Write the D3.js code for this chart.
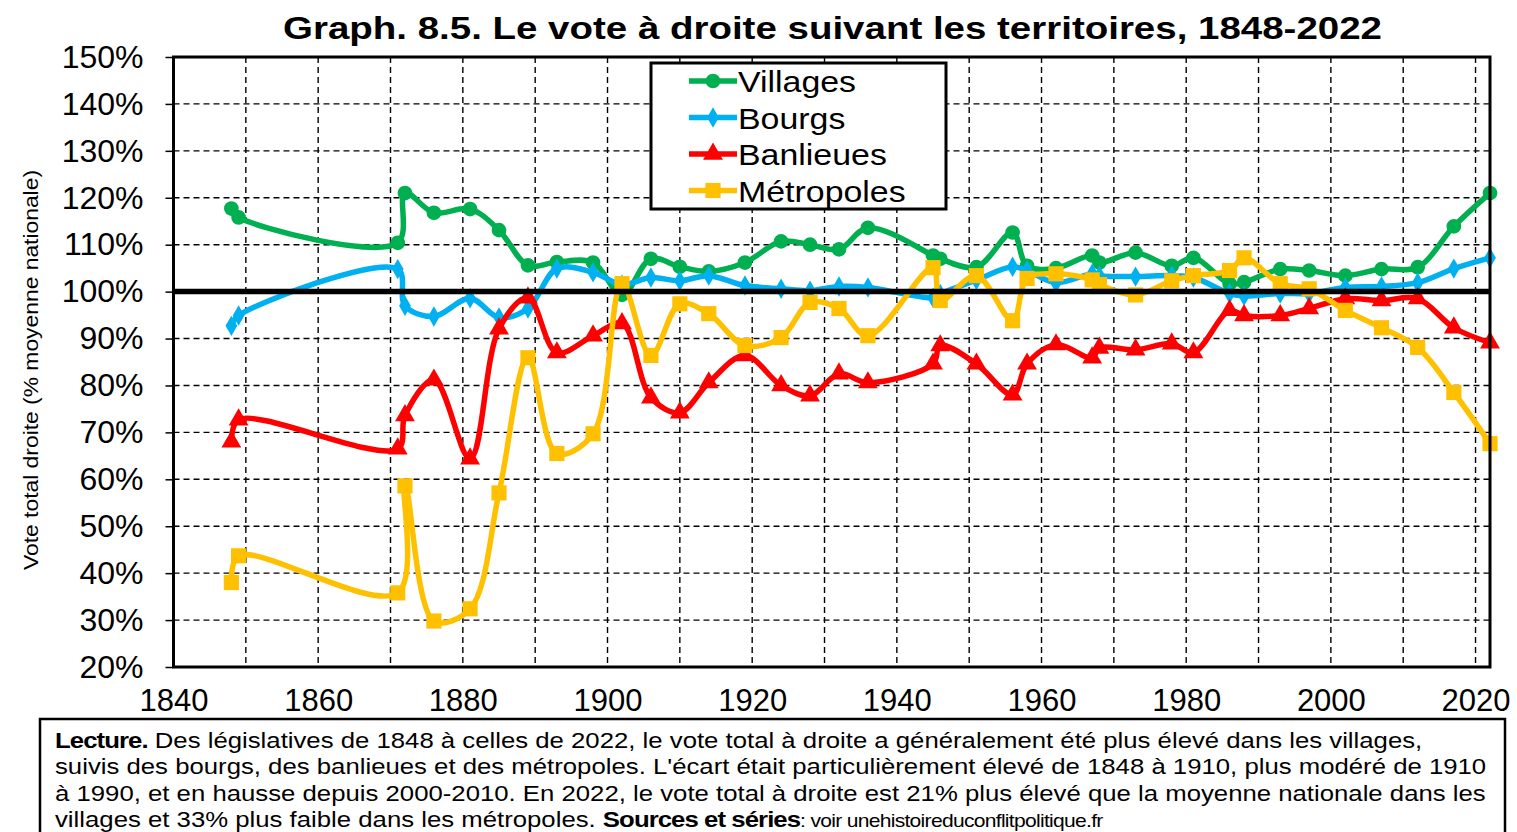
<!DOCTYPE html>
<html>
<head>
<meta charset="utf-8">
<script src="https://cdn.jsdelivr.net/npm/d3@7"></script>
<style>
  body { margin: 0; background: #fff; }
  svg { display: block; font-family: "Liberation Sans", Arial, sans-serif; }
</style>
</head>
<body>
<div id="chart"></div>
<script>
// election years
const years = [1848, 1849, 1871, 1872, 1876, 1881, 1885, 1889, 1893, 1898, 1902, 1906, 1910, 1914, 1919, 1924, 1928, 1932, 1936, 1945, 1946, 1951, 1956, 1958, 1962, 1967, 1968, 1973, 1978, 1981, 1986, 1988, 1993, 1997, 2002, 2007, 2012, 2017, 2022]

// vote total droite, % moyenne nationale
const villages = [117.7, 115.8, 110.4, 121.0, 116.8, 117.6, 113.1, 105.6, 106.3, 106.2, 99.3, 107.0, 105.3, 104.3, 106.2, 110.7, 110.0, 109.0, 113.6, 107.7, 107.0, 105.2, 112.6, 105.5, 105.0, 107.7, 106.2, 108.3, 105.5, 107.2, 101.7, 102.0, 104.8, 104.5, 103.4, 104.8, 105.2, 113.9, 121.0]
const bourgs = [92.7, 94.9, 104.8, 97.0, 94.7, 98.6, 94.5, 96.4, 104.9, 104.1, 101.5, 103.0, 102.3, 103.4, 101.3, 100.6, 100.2, 101.1, 100.9, 98.7, 99.5, 102.5, 105.3, 104.5, 101.9, 103.8, 103.4, 103.2, 103.4, 103.0, 99.6, 99.1, 99.6, 99.6, 100.9, 101.1, 101.9, 104.9, 107.2]
const banlieues = [68.0, 72.7, 66.5, 73.6, 81.2, 64.4, 92.1, 98.7, 87.0, 90.6, 93.2, 77.4, 74.2, 80.6, 86.4, 80.0, 77.8, 82.5, 80.6, 84.6, 88.5, 84.6, 78.0, 84.6, 88.7, 85.9, 88.0, 87.6, 88.9, 87.0, 96.0, 94.9, 94.9, 96.4, 98.5, 98.1, 98.5, 92.3, 89.1]
const metropoles = [38.0, 43.7, 35.8, 58.6, 29.8, 32.4, 57.1, 85.9, 65.5, 69.7, 101.7, 86.4, 97.4, 95.3, 88.5, 90.2, 97.7, 96.4, 90.6, 105.1, 98.1, 103.4, 93.8, 102.8, 103.8, 102.5, 101.5, 99.3, 102.3, 103.4, 104.5, 107.2, 101.7, 100.6, 96.0, 92.3, 88.1, 78.5, 67.6]

const seriesNames = ["Villages", "Bourgs", "Banlieues", "Métropoles"]
const seriesColors = ["#00B050", "#00B0F0", "#FF0000", "#FFC000"]
const seriesValues = [villages, bourgs, banlieues, metropoles]

const yTicks = [20, 30, 40, 50, 60, 70, 80, 90, 100, 110, 120, 130, 140, 150]
const xLabelTicks = [1840, 1860, 1880, 1900, 1920, 1940, 1960, 1980, 2000, 2020]
const xGridTicks = [1850, 1860, 1870, 1880, 1890, 1900, 1910, 1920, 1930, 1940, 1950, 1960, 1970, 1980, 1990, 2000, 2010, 2020]

const title = "Graph. 8.5. Le vote à droite suivant les territoires, 1848-2022"
const yTitle = "Vote total droite (% moyenne nationale)"
const noteLines = [
  [["Lecture.", true], [" Des législatives de 1848 à celles de 2022, le vote total à droite a généralement été plus élevé dans les villages,", false]],
  [["suivis des bourgs, des banlieues et des métropoles. L'écart était particulièrement élevé de 1848 à 1910, plus modéré de 1910", false]],
  [["à 1990, et en hausse depuis 2000-2010. En 2022, le vote total à droite est 21% plus élevé que la moyenne nationale dans les", false]],
  [["villages et 33% plus faible dans les métropoles. ", false], ["Sources et séries", true], [": voir unehistoireduconflitpolitique.fr", "small"]]
]

var width = 1517
var height = 832
var margin = { left: 173.5, right: 27, top: 57, bottom: 165 }

var svg = d3.select("#chart").append("svg")
  .attr("width", width)
  .attr("height", height)

var xScale = d3.scaleLinear()
  .domain([1840, 2022])
  .range([margin.left, width - margin.right])

var yScale = d3.scaleLinear()
  .domain([20, 150])
  .range([height - margin.bottom, margin.top])

// title (the source is stretched wide)
svg.append("text")
  .attr("x", 283)
  .attr("y", 39)
  .attr("textLength", 1099)
  .attr("lengthAdjust", "spacingAndGlyphs")
  .style("font-size", "31px")
  .style("font-weight", "bold")
  .text(title)

// grid
var grid = svg.append("g")
grid.selectAll(".hgrid")
  .data(yTicks.filter(d => d > 20 && d < 150 && d !== 100))
  .enter().append("line")
  .attr("x1", margin.left).attr("x2", width - margin.right)
  .attr("y1", d => yScale(d)).attr("y2", d => yScale(d))
  .attr("stroke", "#000").attr("stroke-width", 1.4)
  .attr("stroke-dasharray", "6,4")
grid.selectAll(".vgrid")
  .data(xGridTicks)
  .enter().append("line")
  .attr("x1", d => xScale(d)).attr("x2", d => xScale(d))
  .attr("y1", margin.top).attr("y2", height - margin.bottom)
  .attr("stroke", "#000").attr("stroke-width", 1.4)
  .attr("stroke-dasharray", "6,4")

// axes
var yAxis = d3.axisLeft(yScale)
  .tickValues(yTicks)
  .tickSize(8)
  .tickPadding(22)
  .tickFormat(d => d + "%")
var yAxisG = svg.append("g")
  .attr("transform", "translate(" + margin.left + ",0)")
  .call(yAxis)
yAxisG.select(".domain").remove()
yAxisG.selectAll("line").attr("stroke", "#000").attr("stroke-width", 1.5)
yAxisG.selectAll("text")
  .style("font-size", "32px")
  .style("font-family", "'Liberation Sans', Arial, sans-serif")
  .attr("fill", "#000")

var xAxis = d3.axisBottom(xScale)
  .tickValues(xLabelTicks)
  .tickSize(0)
  .tickPadding(22)
  .tickFormat(d3.format("d"))
var xAxisG = svg.append("g")
  .attr("transform", "translate(0," + (height - margin.bottom) + ")")
  .call(xAxis)
xAxisG.select(".domain").remove()
xAxisG.selectAll("text")
  .style("font-size", "31px")
  .style("font-family", "'Liberation Sans', Arial, sans-serif")
  .attr("fill", "#000")

// y axis title
svg.append("text")
  .attr("transform", "translate(38," + 370 + ") rotate(-90)")
  .attr("text-anchor", "middle")
  .attr("textLength", 400)
  .attr("lengthAdjust", "spacingAndGlyphs")
  .style("font-size", "21px")
  .text(yTitle)

// series
var line = d3.line()
  .x(d => xScale(d.year))
  .y(d => yScale(d.value))
  .curve(d3.curveCatmullRom.alpha(0.5))

var symbols = [
  d3.symbol().type(d3.symbolCircle).size(170),
  d3.symbol().type(d3.symbolDiamond).size(120),
  d3.symbol().type(d3.symbolTriangle).size(170),
  d3.symbol().type(d3.symbolSquare).size(230)
]

var seriesG = svg.append("g")
seriesValues.forEach((vals, i) => {
  var pts = years.map((y, j) => ({ year: y, value: vals[j] }))
  var g = seriesG.append("g")
  g.append("path")
    .datum(pts)
    .attr("d", line)
    .attr("fill", "none")
    .attr("stroke", seriesColors[i])
    .attr("stroke-width", 5.5)
    .attr("stroke-linejoin", "round")
  g.selectAll("path.pt")
    .data(pts)
    .enter().append("path")
    .attr("class", "pt")
    .attr("d", symbols[i])
    .attr("transform", d => "translate(" + xScale(d.year) + "," + yScale(d.value) + ")")
    .attr("fill", seriesColors[i])
})

// 100% reference line
svg.append("line")
  .attr("x1", margin.left).attr("x2", width - margin.right)
  .attr("y1", yScale(100)).attr("y2", yScale(100))
  .attr("stroke", "#000").attr("stroke-width", 5.5)

// plot frame
svg.append("rect")
  .attr("x", margin.left).attr("y", margin.top)
  .attr("width", width - margin.right - margin.left)
  .attr("height", height - margin.bottom - margin.top)
  .attr("fill", "none")
  .attr("stroke", "#000").attr("stroke-width", 3)

// legend
var legend = svg.append("g").attr("transform", "translate(651,63)")
legend.append("rect")
  .attr("width", 295).attr("height", 146)
  .attr("fill", "#fff")
  .attr("stroke", "#000").attr("stroke-width", 3)
var keyItem = legend.selectAll(".key")
  .data(seriesNames)
  .enter().append("g")
  .attr("class", "key")
  .attr("transform", (d, i) => "translate(0," + (18 + 36.5 * i) + ")")
keyItem.append("line")
  .attr("x1", 38).attr("x2", 86)
  .attr("stroke", (d, i) => seriesColors[i])
  .attr("stroke-width", 5.5)
keyItem.append("path")
  .attr("d", (d, i) => symbols[i]())
  .attr("transform", "translate(62,0)")
  .attr("fill", (d, i) => seriesColors[i])
keyItem.append("text")
  .attr("transform", "translate(87,11) scale(1.13,1)")
  .style("font-size", "30px")
  .text(d => d)

// note box
var note = svg.append("g")
note.append("rect")
  .attr("x", 40).attr("y", 719)
  .attr("width", 1465).attr("height", 130)
  .attr("fill", "#fff")
  .attr("stroke", "#000").attr("stroke-width", 2.5)
var noteText = note.append("g")
  .attr("transform", "translate(55,0) scale(1.17,1)")
noteLines.forEach((parts, i) => {
  var t = noteText.append("text")
    .attr("x", 0)
    .attr("y", 748 + 26.3 * i)
    .style("font-size", "22px")
  parts.forEach(p => {
    var span = t.append("tspan").text(p[0])
    if (p[1] === true) span.style("font-weight", "bold").style("letter-spacing", "-0.8px")
    if (p[1] === "small") span.style("font-size", "18px").style("letter-spacing", "-0.6px")
  })
})
</script>
</body>
</html>
